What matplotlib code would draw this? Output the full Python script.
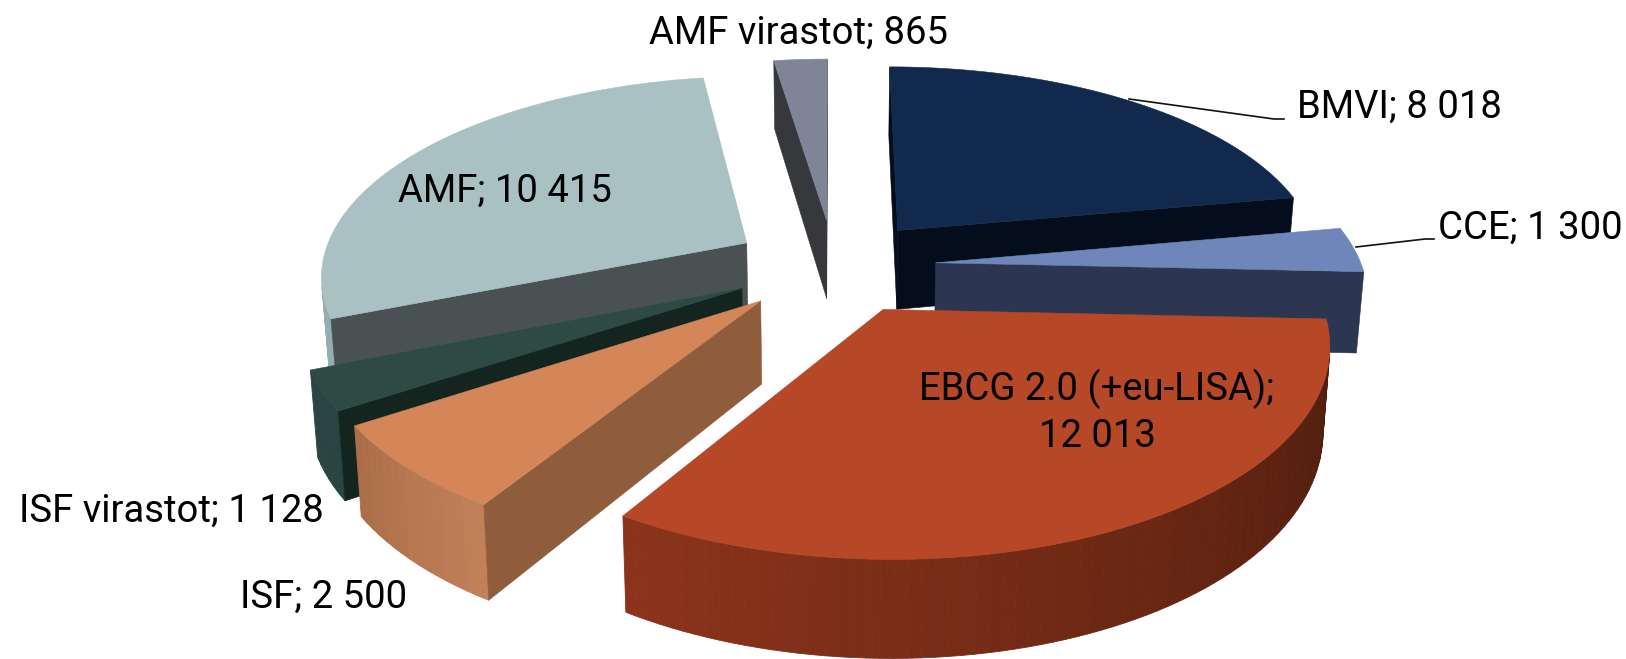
import numpy as np
import matplotlib
matplotlib.use("Agg")
import matplotlib.pyplot as plt
from matplotlib.patches import Polygon

plt.rcParams['font.family'] = ['Roboto', 'DejaVu Sans']

categories = ["BMVI", "CCE", "EBCG 2.0 (+eu-LISA)", "ISF", "ISF virastot", "AMF", "AMF virastot"]
values = [8018, 1300, 12013, 2500, 1128, 10415, 865]
value_texts = ["8 018", "1 300", "12 013", "2 500", "1 128", "10 415", "865"]
top_colors = ["#10294c", "#6f86bb", "#b64828", "#d48659", "#2d4a45", "#a9c1c2", "#7f8596"]
wall_colors = ["#040d1b", "#2c3651", "#8f5d3c", "#8f5d3c", "#142520", "#495152", "#37383c"]
outer_start = ["#0a1a30", "#4a5a80", "#4a1b0d", "#c08058", "#2a4541", "#93adae", "#5a6070"]
outer_end = ["#0a1a30", "#4a5a80", "#8c341b", "#ac6e49", "#2a4541", "#a4bcbd", "#5a6070"]

CX, CY = 834, 266
A, B, D, K, M = 426, 198, 81, 0.15, 0.014
EXPLODE = 0.24


def project(X, Y, z):
    den = 1 + K * Y
    return np.column_stack([CX + A * X * (1 - M * z) / den, CY + (-B * Y + D * z) / den])


fig = plt.figure(figsize=(16.26, 6.59), dpi=100)
ax = fig.add_axes([0, 0, 1, 1])
ax.set_xlim(0, 1626)
ax.set_ylim(659, 0)
ax.axis("off")

vals = np.array(values, dtype=float)
edges = np.concatenate([[0], np.cumsum(vals)]) / vals.sum() * 2 * np.pi
mids = (edges[:-1] + edges[1:]) / 2


def shoelace(q):
    x, y = q[:, 0], q[:, 1]
    return np.sum(x * np.roll(y, -1) - np.roll(x, -1) * y)


def blend(c1, c2, t):
    a = np.array(matplotlib.colors.to_rgb(c1))
    b = np.array(matplotlib.colors.to_rgb(c2))
    return tuple(a + (b - a) * t)


for i in np.argsort(-np.cos(mids)):
    t0, t1, m = edges[i], edges[i + 1], mids[i]
    ox, oy = EXPLODE * np.sin(m), EXPLODE * np.cos(m)
    n = max(6, int((t1 - t0) / np.radians(1.5)))
    th = np.linspace(t0, t1, n)
    X = ox + np.sin(th)
    Y = oy + np.cos(th)
    top_arc = project(X, Y, 0)
    bot_arc = project(X, Y, 1)
    apex_t = project(np.array([ox]), np.array([oy]), 0)
    apex_b = project(np.array([ox]), np.array([oy]), 1)
    # outer wall strips
    for j in range(n - 1):
        q = np.array([top_arc[j], top_arc[j + 1], bot_arc[j + 1], bot_arc[j]])
        if shoelace(q) < 0:
            c = blend(outer_start[i], outer_end[i], j / (n - 2))
            ax.add_patch(Polygon(q, closed=True, facecolor=c, edgecolor=c, lw=0.6))
    # radial walls
    for q in (np.array([apex_t[0], top_arc[0], bot_arc[0], apex_b[0]]),
              np.array([top_arc[-1], apex_t[0], apex_b[0], bot_arc[-1]])):
        if shoelace(q) < 0:
            ax.add_patch(Polygon(q, closed=True, facecolor=wall_colors[i], edgecolor=wall_colors[i], lw=0.4))
    ax.add_patch(Polygon(np.vstack([apex_t, top_arc]), closed=True,
                         facecolor=top_colors[i], edgecolor=top_colors[i], lw=0.4))

# leader lines
ax.plot([1129, 1274, 1284], [99, 119, 119], color="#111111", lw=1.2)
ax.plot([1356, 1425, 1434], [247, 239, 239], color="#111111", lw=1.2)

FS = 27.5
labels = [
    (1297, 107, "left", f"{categories[0]}; {value_texts[0]}"),
    (1438, 228, "left", f"{categories[1]}; {value_texts[1]}"),
    (1097, 412, "center", f"{categories[2]};\n{value_texts[2]}"),
    (240, 597, "left", f"{categories[3]}; {value_texts[3]}"),
    (19, 511, "left", f"{categories[4]}; {value_texts[4]}"),
    (505, 191, "center", f"{categories[5]}; {value_texts[5]}"),
    (798, 33, "center", f"{categories[6]}; {value_texts[6]}"),
]
for x, y, ha, s in labels:
    ax.text(x, y, s, ha=ha, va="center", fontsize=FS, color="#000000",
            linespacing=1.3, multialignment="center")

fig.savefig("out.png", dpi=100, facecolor="white")
